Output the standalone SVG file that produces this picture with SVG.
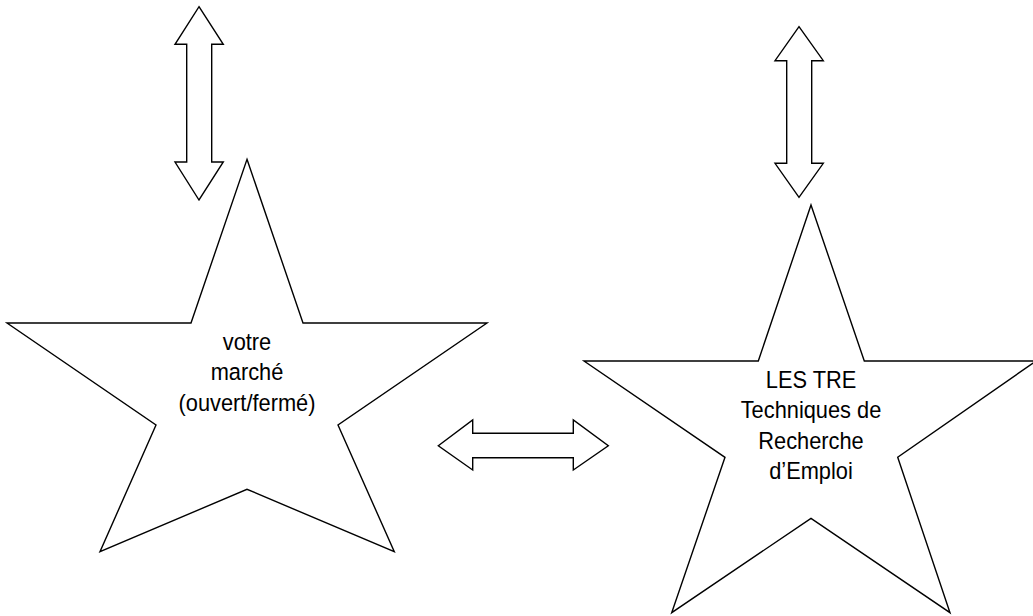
<svg xmlns="http://www.w3.org/2000/svg" width="1033" height="616" viewBox="0 0 1033 616">
<style>
.shape{fill:#fff;stroke:#000;stroke-width:1.4;stroke-linejoin:miter}
.lbl{font-family:"Liberation Sans",Arial,sans-serif;font-size:24.5px;fill:#000;text-anchor:middle}
</style>
<rect width="1033" height="616" fill="#fff"/>
<g id="connectors">
<polygon id="arrow-top-left" class="shape" points="199,6.7 223.3,44.3 211.7,44.3 211.7,162 223.3,162 199,200 175,162 186.7,162 186.7,44.3 175,44.3"/>
<polygon id="arrow-top-right" class="shape" points="799,26.7 823.3,60.7 811.7,60.7 811.7,163.3 823.3,163.3 799,197.3 775,163.3 786.7,163.3 786.7,60.7 775,60.7"/>
<polygon id="arrow-middle" class="shape" points="438.3,445.7 472.7,420 472.7,433.3 573.3,433.3 573.3,420 608.3,445.7 573.3,470 573.3,457.7 472.7,457.7 472.7,470"/>
</g>
<g id="star-marche">
<polygon class="shape" points="247,159.3 303,323 487,323 338,425 394.3,551.7 247,489.3 100,551.7 156,425 7,323 191,323"/>
<text class="lbl" transform="translate(247,350) scale(0.89,1)"><tspan x="0" y="0">votre</tspan><tspan x="0" y="30.3">marché</tspan><tspan x="0" y="60.6">(ouvert/fermé)</tspan></text>
</g>
<g id="star-tre">
<polygon class="shape" points="811,205 864.3,361 1036,361 897.7,457.3 950,612.7 811,518.3 671.7,612.7 725,457.3 584,361 758.3,361"/>
<text class="lbl" transform="translate(811,388) scale(0.89,1)"><tspan x="0" y="0">LES TRE</tspan><tspan x="0" y="30.3">Techniques de</tspan><tspan x="0" y="60.6">Recherche</tspan><tspan x="0" y="90.9">d’Emploi</tspan></text>
</g>
</svg>
